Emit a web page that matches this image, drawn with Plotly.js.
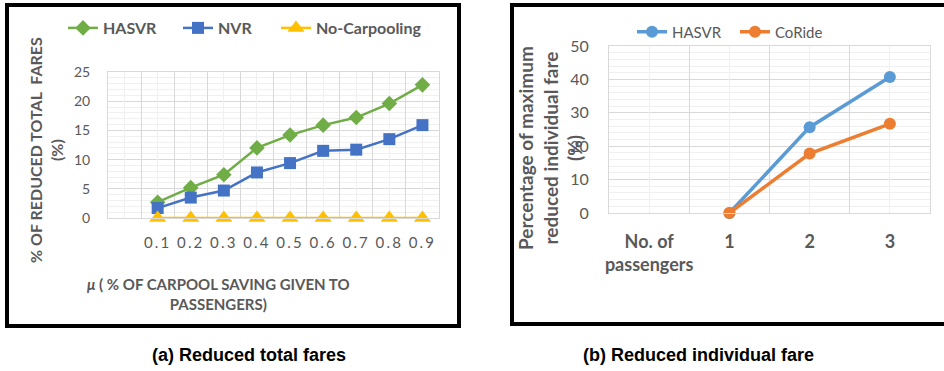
<!DOCTYPE html>
<html>
<head>
<meta charset="utf-8">
<script src="https://cdn.plot.ly/plotly-3.0.1.min.js"></script>
<style>
  html, body { margin: 0; padding: 0; background: #fff; }
  #chart { width: 944px; height: 371px; }
  .subplot.xy .xtick text { letter-spacing: 2.2px; }
</style>
</head>
<body>
<div id="chart"></div>
<script>
// ---- Panel (a): Reduced total fares ----
const muLabels = [" ", "0.1", "0.2", "0.3", "0.4", "0.5", "0.6", "0.7", "0.8", "0.9"];
const hasvrTotal = [null, 2.7, 5.2, 7.4, 12.0, 14.2, 15.9, 17.2, 19.6, 22.8];
const nvrTotal = [null, 1.7, 3.5, 4.7, 7.8, 9.4, 11.5, 11.7, 13.5, 15.9];
const noCarpoolTotal = [null, 0, 0, 0, 0, 0, 0, 0, 0, 0];

// ---- Panel (b): Reduced individual fare ----
const passengerLabels = ["No. of<br>passengers", "1", "2", "3"];
const hasvrIndividual = [null, 0, 25.7, 40.7];
const corideIndividual = [null, 0, 17.8, 26.7];

const GREY = "#595959";
const FONT = "Lato, 'Open Sans', sans-serif";
const W = 944, H = 371;
const px = v => v / W;
const py = v => 1 - v / H;

const traces = [
  {x: muLabels, y: hasvrTotal, name: "HASVR", type: "scatter", mode: "lines+markers",
   line: {color: "#70ad47", width: 2.5}, marker: {symbol: "diamond", size: 12, color: "#70ad47"},
   xaxis: "x", yaxis: "y", legend: "legend", cliponaxis: false, hoverinfo: "x+y"},
  {x: muLabels, y: nvrTotal, name: "NVR", type: "scatter", mode: "lines+markers",
   line: {color: "#4472c4", width: 2.5}, marker: {symbol: "square", size: 12, color: "#4472c4"},
   xaxis: "x", yaxis: "y", legend: "legend3", cliponaxis: false, hoverinfo: "x+y"},
  {x: muLabels, y: noCarpoolTotal, name: "No-Carpooling", type: "scatter", mode: "lines+markers",
   line: {color: "#ffc000", width: 2.5}, marker: {symbol: "triangle-up", size: 15, color: "#ffc000"},
   xaxis: "x", yaxis: "y", legend: "legend4", cliponaxis: false, hoverinfo: "x+y"},
  // invisible helper trace for the minor vertical grid (category centres)
  {x: muLabels, y: muLabels.map(() => null), type: "scatter", mode: "lines", showlegend: false,
   hoverinfo: "skip", xaxis: "x3", yaxis: "y"},

  {x: passengerLabels, y: hasvrIndividual, name: "HASVR", type: "scatter", mode: "lines+markers",
   line: {color: "#5b9bd5", width: 3.5}, marker: {symbol: "circle", size: 12, color: "#5b9bd5"},
   xaxis: "x2", yaxis: "y2", legend: "legend2", cliponaxis: false, hoverinfo: "x+y"},
  {x: passengerLabels, y: corideIndividual, name: "CoRide", type: "scatter", mode: "lines+markers",
   line: {color: "#ed7d31", width: 3.5}, marker: {symbol: "circle", size: 12, color: "#ed7d31"},
   xaxis: "x2", yaxis: "y2", legend: "legend5", cliponaxis: false, hoverinfo: "x+y"},
  {x: passengerLabels, y: passengerLabels.map(() => null), type: "scatter", mode: "lines", showlegend: false,
   hoverinfo: "skip", xaxis: "x4", yaxis: "y2"}
];

const gridMajor = "#d9d9d9", gridMinor = "#f0f0f0";

function legendAt(xPix, yPix, size, bold) {
  return {
    orientation: "h", x: px(xPix), xanchor: "left", y: py(yPix), yanchor: "middle",
    font: {family: FONT, size: size, color: GREY, weight: bold ? "bold" : "normal"},
    bgcolor: "rgba(0,0,0,0)", itemclick: false, itemdoubleclick: false
  };
}

const layout = {
  width: W, height: H,
  margin: {l: 0, r: 0, t: 0, b: 0},
  paper_bgcolor: "#fff", plot_bgcolor: "#fff",
  showlegend: true,
  font: {family: FONT, color: GREY},
  xaxis: {
    domain: [px(108), px(439)], anchor: "y", type: "category",
    categoryorder: "array", categoryarray: muLabels, range: [-0.5, muLabels.length - 0.5],
    tickson: "boundaries", showgrid: true, gridcolor: gridMajor, gridwidth: 1,
    showline: true, linecolor: gridMajor, mirror: true, zeroline: false,
    ticks: "", ticklabelstandoff: 11, tickangle: 0,
    tickfont: {family: FONT, size: 15, color: GREY}, fixedrange: true
  },
  xaxis3: {
    overlaying: "x", anchor: "y", type: "category",
    categoryarray: muLabels, categoryorder: "array", range: [-0.5, muLabels.length - 0.5],
    showgrid: true, gridcolor: gridMinor, showticklabels: false, ticks: "", showline: false, zeroline: false
  },
  yaxis: {
    domain: [py(218), py(72)], anchor: "x", range: [0, 25], dtick: 5,
    showgrid: true, gridcolor: gridMajor, zeroline: false,
    minor: {dtick: 1, showgrid: true, gridcolor: gridMinor},
    showline: true, linecolor: gridMajor, mirror: true,
    ticks: "", ticklabelstandoff: 14,
    tickfont: {family: FONT, size: 14, color: GREY}, fixedrange: true
  },
  xaxis2: {
    domain: [px(609), px(930)], anchor: "y2", type: "category",
    categoryorder: "array", categoryarray: passengerLabels, range: [-0.5, passengerLabels.length - 0.5],
    tickson: "boundaries", showgrid: true, gridcolor: gridMajor,
    showline: true, linecolor: gridMajor, mirror: true, zeroline: false,
    ticks: "", ticklabelstandoff: 12, tickangle: 0,
    tickfont: {family: FONT, size: 18, color: GREY, weight: "bold"}, fixedrange: true
  },
  xaxis4: {
    overlaying: "x2", anchor: "y2", type: "category",
    categoryarray: passengerLabels, categoryorder: "array", range: [-0.5, passengerLabels.length - 0.5],
    showgrid: true, gridcolor: gridMinor, showticklabels: false, ticks: "", showline: false, zeroline: false
  },
  yaxis2: {
    domain: [py(213), py(46)], anchor: "x2", range: [0, 50], dtick: 10,
    showgrid: true, gridcolor: gridMajor, zeroline: false,
    minor: {dtick: 2, showgrid: true, gridcolor: gridMinor},
    showline: true, linecolor: gridMajor, mirror: true,
    ticks: "", ticklabelstandoff: 16,
    tickfont: {family: FONT, size: 16, color: GREY}, fixedrange: true
  },
  legend: legendAt(63, 28, 16, true),
  legend3: legendAt(178, 28, 16, true),
  legend4: legendAt(276, 28, 16, true),
  legend2: legendAt(632, 32, 15, false),
  legend5: legendAt(735, 32, 15, false),
  shapes: [
    {type: "rect", xref: "paper", yref: "paper", x0: px(7), x1: px(459), y0: py(326), y1: py(5),
     line: {color: "#000", width: 4}, fillcolor: "rgba(0,0,0,0)", layer: "above"},
    {type: "rect", xref: "paper", yref: "paper", x0: px(512), x1: px(960), y0: py(324), y1: py(5),
     line: {color: "#000", width: 4}, fillcolor: "rgba(0,0,0,0)", layer: "above"}
  ],
  annotations: [
    {text: "<b>% OF REDUCED TOTAL  FARES<br>(%)</b>", textangle: -90, xref: "paper", yref: "paper",
     x: px(46), y: py(150), xanchor: "center", yanchor: "middle", showarrow: false,
     font: {family: FONT, size: 16, color: GREY}},
    {text: "<b><i>μ</i> ( % OF CARPOOL SAVING GIVEN TO<br>PASSENGERS)</b>", xref: "paper", yref: "paper",
     x: px(218), y: py(294), xanchor: "center", yanchor: "middle", showarrow: false,
     font: {family: FONT, size: 15, color: GREY}},
    {text: "<b>Percentage of maximum<br>reduced individual fare<br>(%)</b>", textangle: -90, xref: "paper", yref: "paper",
     x: px(550), y: py(148), xanchor: "center", yanchor: "middle", showarrow: false,
     font: {family: FONT, size: 19, color: GREY}},
    {text: "<b>(a) Reduced total fares</b>", xref: "paper", yref: "paper", x: px(249), y: py(355),
     xanchor: "center", yanchor: "middle", showarrow: false,
     font: {family: "'Liberation Sans Narrow', 'Liberation Sans', sans-serif", size: 18, color: "#000"}},
    {text: "<b>(b) Reduced individual fare</b>", xref: "paper", yref: "paper", x: px(698), y: py(355),
     xanchor: "center", yanchor: "middle", showarrow: false,
     font: {family: "'Liberation Sans Narrow', 'Liberation Sans', sans-serif", size: 18, color: "#000"}}
  ]
};

Plotly.newPlot("chart", traces, layout, {displayModeBar: false, staticPlot: false});
</script>
</body>
</html>
